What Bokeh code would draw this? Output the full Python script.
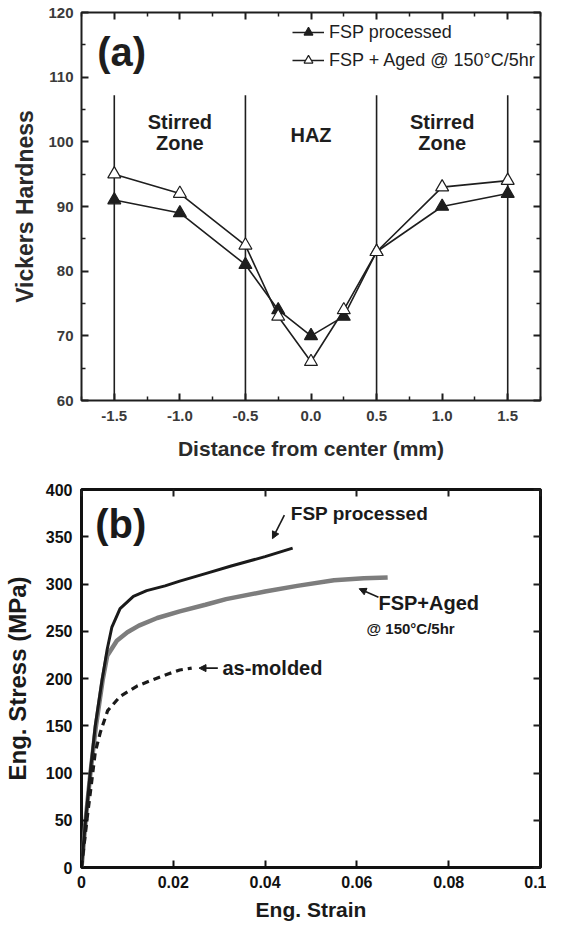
from bokeh.plotting import figure
from bokeh.layouts import column
from bokeh.models import (Range1d, FixedTicker, LinearAxis, CustomJSTickFormatter,
                          NumeralTickFormatter, Legend, LegendItem, Arrow, NormalHead,
                          Label, ColumnDataSource)
from bokeh.core.properties import value
from bokeh.embed import file_html
from bokeh.resources import INLINE

# ---------------- data: panel (a) ----------------
distance_mm = [-1.5, -1.0, -0.5, -0.25, 0.0, 0.25, 0.5, 1.0, 1.5]
hv_fsp = [91, 89, 81, 74, 70, 73, 83, 90, 92]
hv_aged = [95, 92, 84, 73, 66, 74, 83, 93, 94]
zone_bounds = [-1.5, -0.5, 0.5, 1.5]
zone_names = ["Stirred\nZone", "HAZ", "Stirred\nZone"]
zone_centers = [-1.0, 0.0, 1.0]
zone_label_y = [101.5, 101.0, 101.5]
a_xticks = [-1.5, -1.0, -0.5, 0.0, 0.5, 1.0, 1.5]
a_xminor = [-1.75, -1.25, -0.75, -0.25, 0.25, 0.75, 1.25, 1.75]
a_yticks = [60, 70, 80, 90, 100, 110, 120]
a_yminor = [65, 75, 85, 95, 105, 115]

# ---------------- data: panel (b) ----------------
strain_fsp = [0, 0.0009, 0.0019, 0.0030, 0.0045, 0.0056, 0.0066, 0.0084, 0.0113,
              0.0142, 0.0182, 0.0214, 0.0270, 0.0326, 0.0400, 0.0460]
stress_fsp = [0, 51, 100, 150, 199, 231, 254, 274, 287, 293, 298, 303, 311, 319, 329, 338]
strain_aged = [0, 0.0009, 0.0019, 0.0031, 0.0046, 0.0056, 0.0077, 0.0100, 0.0125,
               0.0165, 0.0214, 0.0270, 0.0315, 0.0400, 0.0470, 0.0550, 0.0615, 0.0667]
stress_aged = [0, 50, 98, 148, 198, 224, 240, 249, 256, 264, 271, 278, 284, 292, 298,
               304, 306, 307]
strain_molded = [0, 0.0012, 0.0021, 0.0030, 0.0041, 0.0057, 0.0084, 0.0121, 0.0157,
                 0.0190, 0.0214, 0.0240]
stress_molded = [0, 51, 86, 122, 143, 166, 181, 192, 199, 205, 209, 211]
b_xticks = [0, 0.02, 0.04, 0.06, 0.08, 0.1]
b_yticks = [0, 50, 100, 150, 200, 250, 300, 350, 400]

FONT = "Liberation Sans"
INK = "#1e1e1e"


def mirror_axis(p, side, ticker, minor=True):
    ax = LinearAxis(ticker=ticker,
                    formatter=CustomJSTickFormatter(code="return ''"),
                    axis_line_color=None,
                    major_tick_in=7, major_tick_out=0,
                    minor_tick_in=4 if minor else 0, minor_tick_out=0,
                    major_tick_line_width=2, minor_tick_line_width=1.5,
                    major_tick_line_color=INK, minor_tick_line_color=INK,
                    major_label_text_font_size="0px", major_label_standoff=0)
    p.add_layout(ax, side)


# ================= panel (a) =================
pa = figure(width=546, height=465, output_backend="svg", toolbar_location=None,
            x_range=Range1d(-1.75, 1.75), y_range=Range1d(60, 120),
            min_border_left=68, min_border_right=6, min_border_top=12, min_border_bottom=65)
pa.grid.visible = False
pa.outline_line_color = INK
pa.outline_line_width = 2
pa.background_fill_color = "white"

tx = FixedTicker(ticks=a_xticks, minor_ticks=a_xminor)
ty = FixedTicker(ticks=a_yticks, minor_ticks=a_yminor)
pa.xaxis.ticker = tx
pa.yaxis.ticker = ty
pa.xaxis.formatter = NumeralTickFormatter(format="0.0")
for ax in (pa.xaxis[0], pa.yaxis[0]):
    ax.axis_line_color = None
    ax.major_tick_in = 7
    ax.major_tick_out = 0
    ax.minor_tick_in = 4
    ax.minor_tick_out = 0
    ax.major_tick_line_width = 2
    ax.minor_tick_line_width = 1.5
    ax.major_tick_line_color = INK
    ax.minor_tick_line_color = INK
    ax.major_label_text_font = FONT
    ax.major_label_text_font_style = "bold"
    ax.major_label_text_font_size = "15px"
    ax.major_label_text_color = "#3a3a3a"
    ax.axis_label_text_font = FONT
    ax.axis_label_text_font_style = "bold"
    ax.axis_label_text_color = "#2a2a2a"
pa.xaxis.major_label_standoff = 10
pa.yaxis.major_label_standoff = 8
pa.xaxis.axis_label = "Distance from center (mm)"
pa.xaxis.axis_label_text_font_size = "21px"
pa.xaxis.axis_label_standoff = 13
pa.yaxis.axis_label = "Vickers Hardness"
pa.yaxis.axis_label_text_font_size = "23px"
pa.yaxis.axis_label_standoff = 7
mirror_axis(pa, "above", tx)
mirror_axis(pa, "right", ty)

# zone boundaries
pa.segment(x0=zone_bounds, y0=[60] * len(zone_bounds), x1=zone_bounds,
           y1=[107.2] * len(zone_bounds), line_color=INK, line_width=1.6)

zsrc = ColumnDataSource(dict(x=zone_centers, y=zone_label_y, t=zone_names))
pa.text(x="x", y="y", text="t", source=zsrc, text_align="center", text_baseline="middle",
        text_font=value(FONT), text_font_style="bold", text_font_size="20px",
        text_line_height=0.95, text_color=INK)

l1 = pa.line(distance_mm, hv_fsp, line_color=INK, line_width=1.6)
s1 = pa.scatter(distance_mm, hv_fsp, marker="triangle", size=13, fill_color=INK,
                line_color=INK, line_width=1.2)
l2 = pa.line(distance_mm, hv_aged, line_color=INK, line_width=1.6)
s2 = pa.scatter(distance_mm, hv_aged, marker="triangle", size=13, fill_color="white",
                line_color=INK, line_width=1.2)

leg = Legend(items=[LegendItem(label="FSP processed", renderers=[l1, s1]),
                    LegendItem(label="FSP + Aged @ 150°C/5hr", renderers=[l2, s2])],
             location=(211, 329), padding=0, margin=0, spacing=6,
             label_standoff=5, glyph_width=32, glyph_height=22, label_height=22,
             background_fill_alpha=0, border_line_color=None,
             label_text_font=FONT, label_text_font_size="18px", label_text_color=INK)
pa.add_layout(leg)

pa.add_layout(Label(x=-1.63, y=113.9, text="(a)", text_font=FONT, text_font_style="bold",
                    text_font_size="40px", text_baseline="middle", text_color=INK))

# ================= panel (b) =================
pb = figure(width=546, height=460, output_backend="svg", toolbar_location=None,
            x_range=Range1d(0, 0.1), y_range=Range1d(0, 400),
            min_border_left=78, min_border_right=6, min_border_top=24, min_border_bottom=58)
pb.grid.visible = False
pb.outline_line_color = "#111111"
pb.outline_line_width = 3

bx = FixedTicker(ticks=b_xticks, minor_ticks=[])
by = FixedTicker(ticks=b_yticks, minor_ticks=[])
pb.xaxis.ticker = bx
pb.yaxis.ticker = by
pb.xaxis.formatter = CustomJSTickFormatter(
    code="return tick.toFixed(2).replace(/0+$/, '').replace(/\\.$/, '')")
for ax in (pb.xaxis[0], pb.yaxis[0]):
    ax.axis_line_color = None
    ax.major_tick_in = 7
    ax.major_tick_out = 0
    ax.minor_tick_in = 0
    ax.minor_tick_out = 0
    ax.major_tick_line_width = 2
    ax.major_tick_line_color = "#111111"
    ax.major_label_text_font = FONT
    ax.major_label_text_font_style = "bold"
    ax.major_label_text_font_size = "16px"
    ax.major_label_text_color = "#111111"
    ax.axis_label_text_font = FONT
    ax.axis_label_text_font_style = "bold"
    ax.axis_label_text_color = "#1a1a1a"
pb.xaxis.major_label_standoff = 8
pb.yaxis.major_label_standoff = 9
pb.xaxis.axis_label = "Eng. Strain"
pb.xaxis.axis_label_text_font_size = "21px"
pb.xaxis.axis_label_standoff = 7
pb.yaxis.axis_label = "Eng. Stress (MPa)"
pb.yaxis.axis_label_text_font_size = "24px"
pb.yaxis.axis_label_standoff = 12
mirror_axis(pb, "above", bx, minor=False)
mirror_axis(pb, "right", by, minor=False)

pb.line(strain_aged, stress_aged, line_color="#7d7d7d", line_width=4.5)
pb.line(strain_fsp, stress_fsp, line_color="#1a1a1a", line_width=3)
pb.line(strain_molded, stress_molded, line_color="#1a1a1a", line_width=3.2,
        line_dash="7 5")


def note(x, y, text, size, bold=True):
    pb.add_layout(Label(x=x, y=y, text=text, text_font=FONT,
                        text_font_style="bold" if bold else "normal",
                        text_font_size=size, text_baseline="middle", text_color="#1a1a1a"))


note(0.0030, 364, "(b)", "40px")
note(0.0456, 375, "FSP processed", "19px")
note(0.0647, 280, "FSP+Aged", "20px")
note(0.0621, 253, "@ 150°C/5hr", "15px")
note(0.0307, 211, "as-molded", "20px")

for (xs, ys, xe, ye) in [(0.0442, 373, 0.0416, 348), (0.0647, 286, 0.0605, 295),
                         (0.0297, 211, 0.0256, 211)]:
    pb.add_layout(Arrow(end=NormalHead(size=7, fill_color="#1a1a1a", line_color="#1a1a1a"),
                        x_start=xs, y_start=ys, x_end=xe, y_end=ye,
                        line_color="#1a1a1a", line_width=1.6))

layout = column(pa, pb, spacing=0)
open("out.html", "w").write(file_html(layout, INLINE))
